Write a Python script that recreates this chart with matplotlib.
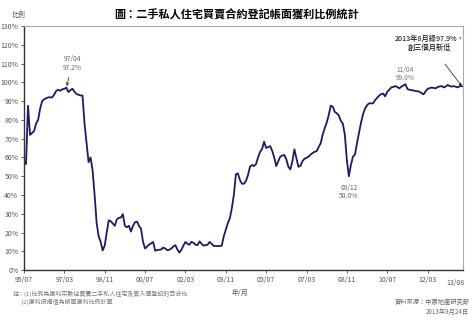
import numpy as np
import matplotlib
matplotlib.use("Agg")
import matplotlib.pyplot as plt

plt.rcParams['font.family'] = ['Noto Sans CJK TC', 'DejaVu Sans']

# monthly share of secondary private residential deals registered at a paper profit (%), 95/07 - 13/08
profit_pct = [
    57, 56.5, 87.5, 72, 73, 74, 78, 80, 86, 90,
    91, 91.5, 92, 92, 92, 93.5, 95.5, 96, 95.5, 96.3,
    96.5, 97.2, 94.8, 95.8, 96.6, 95, 93.8, 93.4, 93, 93,
    78, 68, 57.5, 60, 53, 40, 25, 18, 15, 10.5,
    13, 20, 26.5, 26, 24.8, 23.6, 27, 27.8, 28, 29.8,
    23.5, 22.8, 23.6, 20.5, 23.5, 25.5, 25.8, 23.5, 22, 15,
    11.5, 12.5, 13.6, 14.2, 15, 10.3, 10.7, 10.8, 11, 12,
    11.5, 10.6, 10.8, 11.5, 12.6, 13.3, 11, 9.3, 10.8, 13,
    15, 14, 13.5, 15, 14.5, 13.5, 13.3, 15.3, 14, 13,
    13.3, 13.5, 15, 14, 12.8, 12.8, 12.8, 12.8, 13, 18,
    21.5, 25, 27.5, 33, 40, 51, 51.5, 48, 46, 46,
    47.5, 50.6, 55, 56, 55.4, 56.5, 60, 63, 64.5, 68.4,
    65, 65.5, 66, 63.5, 60, 55.4, 58, 60.4, 61, 61.3,
    59, 55, 53.6, 58, 64.3, 59.5, 55, 55.5, 58, 59.3,
    59.8, 60.4, 61.5, 62.3, 63, 63.3, 65.5, 67.5, 72, 75.5,
    78.5, 82.5, 87.6, 87, 84.3, 83.5, 82.3, 79.5, 78, 72,
    58.5, 50.0, 56, 60.4, 61.5, 67.5, 73, 78.5, 83, 86,
    87.8, 88.8, 88.8, 88.8, 90.5, 91.8, 92.9, 93.7, 94, 92.5,
    95, 96, 97.3, 97.5, 98, 97.5, 96.8, 97.7, 98.3, 99.0,
    96.5, 96, 95.9, 95.6, 95.4, 95.2, 95, 94.2, 93.6, 95.2,
    96.5, 96.9, 97.2, 97, 96.8, 97.5, 97.8, 98, 97.3, 97.8,
    98.6, 98, 97.7, 98, 97.6, 97.3, 98, 97.9,
]
tick_labels = ['95/07', '97/03', '98/11', '00/07', '02/03', '03/11',
               '05/07', '07/03', '08/11', '10/07', '12/03']
last_label = '13/08'
y_ticks = list(range(0, 131, 10))

months = np.arange(len(profit_pct))
n = len(profit_pct)

fig = plt.figure(figsize=(4.74, 3.25), dpi=100)
ax = fig.add_axes([0.0506, 0.169, 0.926, 0.751])
ax.plot(months, profit_pct, color='#1c1c5e', lw=1.3, solid_joinstyle='round')

ax.set_xlim(0, n - 1 + 0.5)
ax.set_ylim(0, 130)
ax.set_yticks(y_ticks)
ax.set_yticklabels([f'{v}%' for v in y_ticks], fontsize=5, color='#555555')
ax.set_xticks(np.arange(0, n - 1, 20))
ax.set_xticklabels(tick_labels, fontsize=5, color='#555555')
ax.tick_params(axis='both', length=2, width=0.6, color='#444444', pad=2)

for side in ('left', 'bottom'):
    ax.spines[side].set_color('#333333')
    ax.spines[side].set_linewidth(1.0)
for side in ('top', 'right'):
    ax.spines[side].set_color('#aaaaaa')
    ax.spines[side].set_linewidth(0.8)

# last month label sits slightly lower, near the right edge
ax.text(n - 4, -4.8, last_label, fontsize=5, color='#555555', ha='center', va='top')

fig.text(0.5, 0.955, '圖：二手私人住宅買賣合約登記帳面獲利比例統計',
         fontsize=8, fontweight='bold', ha='center', va='center')
fig.text(0.038, 0.955, '比例', fontsize=5, color='#555555', ha='center', va='center')
fig.text(0.506, 0.100, '年/月', fontsize=5, color='#555555', ha='center', va='center')

# peak / trough notes
ax.annotate('97/04\n97.2%', xy=(21, 97.2), xytext=(24, 110), fontsize=4.8,
            color='#666666', ha='center', va='center', linespacing=1.1,
            arrowprops=dict(arrowstyle='->', color='#444444', lw=0.6, shrinkB=1))
ax.text(189, 104.5, '11/04\n99.0%', fontsize=4.8, color='#777777',
        ha='center', va='center', linespacing=1.1)
ax.text(161, 41.5, '08/12\n50.0%', fontsize=4.8, color='#666666',
        ha='center', va='center', linespacing=1.1)
ax.annotate('2013年8月錄97.9%，\n創三個月新低', xy=(n - 1, profit_pct[-1]),
            xytext=(201, 120.5), fontsize=5.2, ha='center', va='center',
            linespacing=1.2,
            arrowprops=dict(arrowstyle='-|>', color='#333333', lw=0.6,
                            mutation_scale=4, shrinkA=8, shrinkB=0))

fig.text(0.027, 0.083, '註：(1)比例為獲利宗數佔買賣二手私人住宅及買入價登記的百分比\n'
         '      (2)獲利按揭值為帳面獲利比例計算', fontsize=4.3, color='#777777',
         ha='left', va='center', linespacing=1.3)
fig.text(0.99, 0.055, '資料來源：中原地產研究部\n2013年9月24日', fontsize=4.5,
         color='#666666', ha='right', va='center', linespacing=1.4)

fig.savefig('out.png', dpi=100)
